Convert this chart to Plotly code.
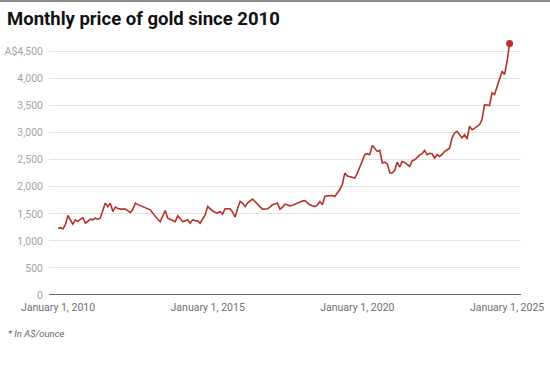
import plotly.graph_objects as go
import pandas as pd

# Monthly gold price in A$/ounce, Jan 2010 - Feb 2025
start_month = "2010-01-01"
prices = [
    1235, 1245, 1220, 1300, 1469, 1380, 1310, 1389, 1357, 1400, 1426, 1328,  # 2010
    1360, 1402, 1390, 1420, 1402, 1420, 1560, 1698, 1635, 1698, 1543, 1624,  # 2011
    1600, 1587, 1590, 1587, 1560, 1524, 1580, 1698, 1670, 1650, 1635, 1605,  # 2012
    1590, 1574, 1513, 1450, 1400, 1357, 1450, 1561, 1420, 1400, 1380, 1357,  # 2013
    1463, 1400, 1357, 1370, 1389, 1328, 1389, 1375, 1370, 1328, 1400, 1480,  # 2014
    1635, 1590, 1556, 1530, 1513, 1543, 1494, 1593, 1593, 1593, 1530, 1439,  # 2015
    1600, 1728, 1698, 1635, 1698, 1740, 1772, 1728, 1667, 1630, 1587, 1590,  # 2016
    1593, 1630, 1667, 1680, 1698, 1587, 1620, 1680, 1665, 1648, 1660, 1680,  # 2017
    1700, 1720, 1735, 1746, 1700, 1667, 1650, 1635, 1667, 1728, 1667, 1821,  # 2018
    1833, 1830, 1840, 1821, 1883, 1950, 2037, 2254, 2200, 2191, 2180, 2161,  # 2019
    2250, 2376, 2480, 2593, 2611, 2593, 2765, 2700, 2654, 2672, 2439, 2457,  # 2020
    2420, 2254, 2254, 2300, 2457, 2365, 2469, 2450, 2420, 2376, 2482, 2500,  # 2021
    2543, 2590, 2611, 2672, 2593, 2620, 2611, 2532, 2593, 2561, 2600, 2654,  # 2022
    2680, 2717, 2900, 2995, 3024, 2960, 2902, 2963, 2883, 3117, 3056, 3080,  # 2023
    3117, 3150, 3241, 3519, 3510, 3500, 3735, 3704, 3850, 3982, 4135, 4074,  # 2024
    4320, 4648,                                                              # 2025
]
dates = pd.date_range(start_month, periods=len(prices), freq="MS")

y_tickvals = [0, 500, 1000, 1500, 2000, 2500, 3000, 3500, 4000, 4500]
y_ticktext = ["0", "500", "1,000", "1,500", "2,000", "2,500", "3,000", "3,500", "4,000", "A$4,500"]
x_tickvals = ["2010-01-01", "2015-01-01", "2020-01-01", "2025-01-01"]
x_ticktext = ["January 1, 2010", "January 1, 2015", "January 1, 2020", "January 1, 2025"]

title_text = "Monthly price of gold since 2010"
note_text = "* In A$/ounce"

LINE = "#b7312a"
W, H = 550, 368
ML, MR, MT, MB = 49, 29, 38, 73
PW, PH = W - ML - MR, H - MT - MB

fig = go.Figure()
fig.add_trace(go.Scatter(
    x=dates, y=prices, mode="lines",
    line=dict(color=LINE, width=1.6, shape="linear"),
    hoverinfo="skip", showlegend=False,
))
fig.add_trace(go.Scatter(
    x=[dates[-1]], y=[prices[-1]], mode="markers",
    marker=dict(color=LINE, size=7),
    hoverinfo="skip", showlegend=False,
))

def px_x(p):
    return (p - ML) / PW

def px_y(p):
    return (H - MB - p) / PH

fig.update_layout(
    width=W, height=H,
    margin=dict(l=ML, r=MR, t=MT, b=MB, autoexpand=False),
    paper_bgcolor="white", plot_bgcolor="white",
    font=dict(family="Roboto, Arial, sans-serif"),
    title=dict(
        text="<b>" + title_text + "</b>",
        x=7 / W, xanchor="left", xref="container",
        y=1 - 19 / H, yanchor="middle", yref="container",
        font=dict(size=18.5, color="#111111", family="Roboto, Arial, sans-serif"),
    ),
    xaxis=dict(
        type="date",
        range=["2009-09-13", "2025-06-20"],
        tickvals=x_tickvals, ticktext=x_ticktext,
        showgrid=False, zeroline=False, showline=False,
        ticks="", ticklabelstandoff=4, automargin=False,
        tickfont=dict(size=10.5, color="#6f6f6f"),
        fixedrange=True,
    ),
    yaxis=dict(
        range=[0, 4750],
        tickvals=y_tickvals, ticktext=y_ticktext,
        showgrid=True, gridcolor="#e3e3e3", gridwidth=1,
        zeroline=False, showline=False,
        ticks="", ticklabelstandoff=5, automargin=False,
        tickfont=dict(size=10.5, color="#a3a3a3"),
        fixedrange=True,
    ),
    shapes=[
        dict(type="line", xref="paper", yref="y", x0=0, x1=1, y0=0, y1=0,
             line=dict(color="#333333", width=1.3), layer="below"),
        dict(type="rect", xref="paper", yref="paper",
             x0=px_x(0), x1=px_x(W), y0=px_y(2), y1=px_y(0),
             fillcolor="#8a8a8a", line=dict(width=0)),
    ],
    annotations=[
        dict(text="<i>" + note_text + "</i>", xref="paper", yref="paper",
             x=px_x(6), y=px_y(333), xanchor="left", yanchor="middle",
             showarrow=False, font=dict(size=9.5, color="#666666")),
    ],
)

fig.write_html(
    "out.html",
    config={"displayModeBar": False},
    post_script="document.body.style.margin='0';document.body.style.overflow='hidden';",
)
